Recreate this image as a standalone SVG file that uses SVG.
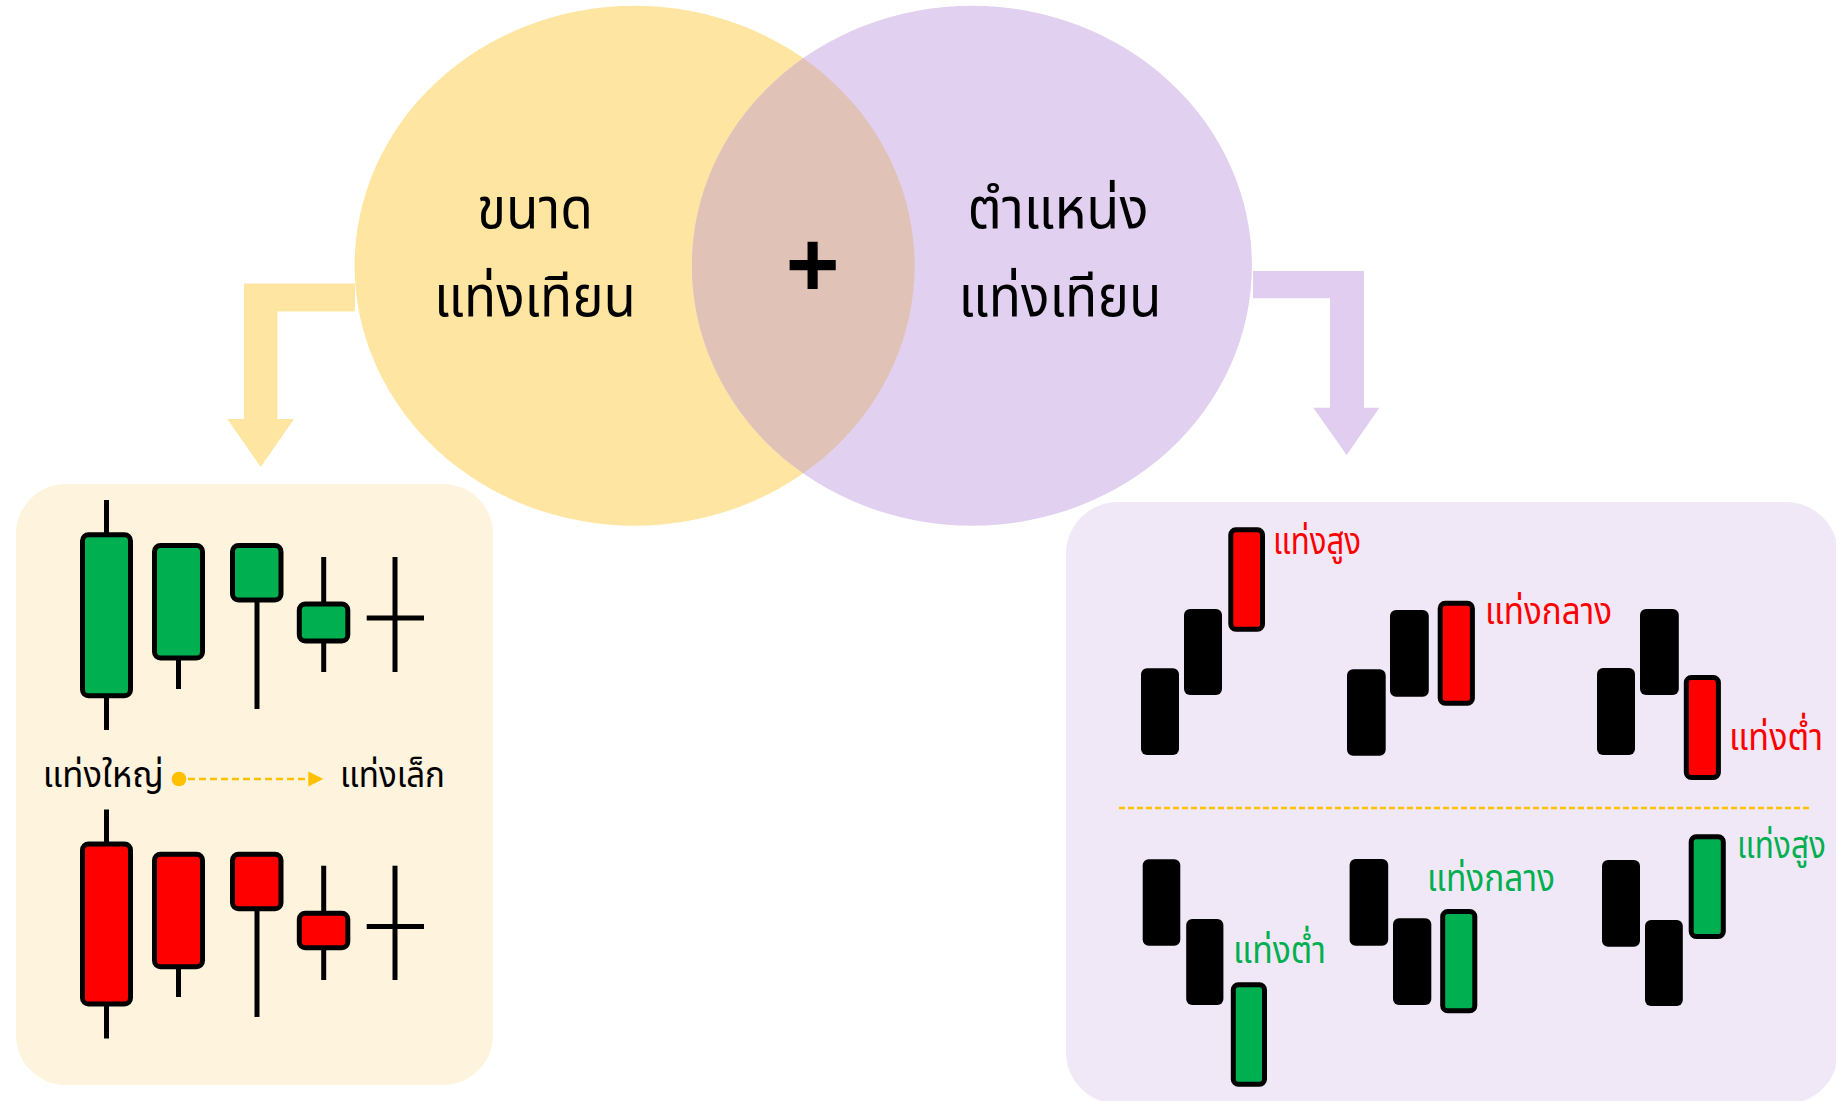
<svg xmlns="http://www.w3.org/2000/svg" width="1836" height="1101" viewBox="0 0 1836 1101">
<defs>
<style>
.th{font-family:"Noto Sans Thai","Noto Sans","DejaVu Sans",sans-serif;}
.big{font-size:57px;fill:#000;text-anchor:middle;}
.lbl{font-size:35px;fill:#000;}
.rl{font-size:37px;}
.red{fill:#FF0000;}
.grn{fill:#00B050;}
.wick{stroke:#000;stroke-width:5;fill:none;}
.gb{fill:#00B050;stroke:#000;stroke-width:5;}
.rb{fill:#FF0000;stroke:#000;stroke-width:5;}
.blk{fill:#000;}
.gc{fill:#00B050;stroke:#000;stroke-width:5;}
.rc{fill:#FF0000;stroke:#000;stroke-width:5;}
</style>
<clipPath id="clipL"><ellipse cx="634.6" cy="265.8" rx="280" ry="260"/></clipPath>
</defs>
<rect width="1836" height="1101" fill="#FFFFFF"/>

<g id="venn-size">
<ellipse cx="634.6" cy="265.8" rx="280" ry="260" fill="#FEE5A1"/>
</g>
<g id="venn-position">
<ellipse cx="971.9" cy="265.8" rx="280" ry="260" fill="#E1D0F0"/>
</g>
<g id="venn-overlap">
<ellipse cx="971.9" cy="265.8" rx="280" ry="260" fill="#E0C3B6" clip-path="url(#clipL)"/>
<text x="812.6" y="296" font-family="Liberation Sans, Arial, sans-serif" font-weight="bold" font-size="92" text-anchor="middle" fill="#000">+</text>
</g>
<g id="label-size">
<text class="th big" x="535" y="228" textLength="116" lengthAdjust="spacingAndGlyphs">ขนาด</text>
<text class="th big" x="535" y="316" textLength="202" lengthAdjust="spacingAndGlyphs">แท่งเทียน</text>
</g>
<g id="label-position">
<text class="th big" x="1058" y="228" textLength="181" lengthAdjust="spacingAndGlyphs">ตำแหน่ง</text>
<text class="th big" x="1060" y="316" textLength="203" lengthAdjust="spacingAndGlyphs">แท่งเทียน</text>
</g>

<g id="connectors">
<polygon points="355,283.5 244,283.5 244,419 227.3,419 260.7,467 294,419 277.3,419 277.3,311.5 355,311.5" fill="#FEE5A1"/>
<polygon points="1253,271 1364,271 1364,407.7 1379.3,407.7 1346.7,455 1313.3,407.7 1330,407.7 1330,298.3 1253,298.3" fill="#E1CDF0"/>
</g>

<g id="panel-size">
<rect x="16" y="484" width="477" height="601" rx="50" fill="#FEF3DD"/>
<g id="green-candles">
<line class="wick" x1="106.5" y1="500" x2="106.5" y2="730"/>
<rect class="gb" x="82.5" y="534.8" width="48" height="161" rx="6"/>
<line class="wick" x1="178.5" y1="655" x2="178.5" y2="689"/>
<rect class="gb" x="154.5" y="545.5" width="48" height="112.5" rx="6"/>
<line class="wick" x1="257" y1="600" x2="257" y2="709"/>
<rect class="gb" x="232.5" y="545.5" width="48.5" height="54.6" rx="6"/>
<line class="wick" x1="323.7" y1="557" x2="323.7" y2="672"/>
<rect class="gb" x="299.3" y="603.9" width="48.5" height="37.2" rx="6"/>
<line class="wick" x1="395" y1="557" x2="395" y2="672"/>
<line class="wick" x1="366.7" y1="618" x2="424" y2="618"/>
</g>
<text class="th lbl" x="42.7" y="787" textLength="121" lengthAdjust="spacingAndGlyphs">แท่งใหญ่</text>
<text class="th lbl" x="340" y="787" textLength="105" lengthAdjust="spacingAndGlyphs">แท่งเล็ก</text>
<g id="red-candles">
<line class="wick" x1="106.5" y1="809.5" x2="106.5" y2="1038.5"/>
<rect class="rb" x="82.5" y="844.1" width="48" height="160" rx="6"/>
<line class="wick" x1="178.5" y1="964" x2="178.5" y2="997"/>
<rect class="rb" x="154.5" y="854.2" width="48" height="112.5" rx="6"/>
<line class="wick" x1="257" y1="908" x2="257" y2="1017"/>
<rect class="rb" x="232.5" y="854.2" width="48.5" height="54.6" rx="6"/>
<line class="wick" x1="323.7" y1="865.7" x2="323.7" y2="980"/>
<rect class="rb" x="299.3" y="913.2" width="48.5" height="34.5" rx="6"/>
<line class="wick" x1="395" y1="865.7" x2="395" y2="980"/>
<line class="wick" x1="366.7" y1="926.5" x2="424" y2="926.5"/>
</g>
</g>

<g id="size-scale-arrow">
<circle cx="179" cy="779" r="7.3" fill="#FFC000"/>
<line x1="188" y1="779" x2="309" y2="779" stroke="#FFC000" stroke-width="2.5" stroke-dasharray="7 4"/>
<polygon points="308.3,771.5 323.3,779 308.3,786.5" fill="#FFC000"/>
</g>

<g id="panel-position">
<rect x="1066" y="502" width="772" height="602" rx="52" fill="#F1E8F7"/>
<line x1="1119" y1="808" x2="1812" y2="808" stroke="#FFC000" stroke-width="2.5" stroke-dasharray="6 3"/>
<g id="red-high">
<rect class="blk" x="1141" y="668.3" width="38" height="86.7" rx="6"/>
<rect class="blk" x="1184" y="609" width="38" height="86" rx="6"/>
<rect class="rc" x="1230.8" y="529.8" width="31.7" height="99.4" rx="5"/>
<text class="th rl red" x="1273" y="554" textLength="88" lengthAdjust="spacingAndGlyphs">แท่งสูง</text>
</g>
<g id="red-mid">
<rect class="blk" x="1347" y="669.3" width="38.7" height="86.4" rx="6"/>
<rect class="blk" x="1390" y="610" width="38.8" height="86.7" rx="6"/>
<rect class="rc" x="1440.2" y="603.2" width="32.2" height="100" rx="5"/>
<text class="th rl red" x="1485" y="623.5" textLength="127" lengthAdjust="spacingAndGlyphs">แท่งกลาง</text>
</g>
<g id="red-low">
<rect class="blk" x="1597" y="668" width="38" height="87" rx="6"/>
<rect class="blk" x="1640" y="609" width="38.8" height="86" rx="6"/>
<rect class="rc" x="1686.3" y="677.5" width="32.1" height="100" rx="5"/>
<text class="th rl red" x="1729" y="749.5" textLength="94" lengthAdjust="spacingAndGlyphs">แท่งต่ำ</text>
</g>
<g id="green-low">
<rect class="blk" x="1142.7" y="859.3" width="37.6" height="86.4" rx="6"/>
<rect class="blk" x="1186.2" y="919" width="37.2" height="86" rx="6"/>
<rect class="gc" x="1233.3" y="984.8" width="31.2" height="99.4" rx="5"/>
<text class="th rl grn" x="1233" y="962.5" textLength="93" lengthAdjust="spacingAndGlyphs">แท่งต่ำ</text>
</g>
<g id="green-mid">
<rect class="blk" x="1349.6" y="859" width="38.6" height="86.7" rx="6"/>
<rect class="blk" x="1393" y="918.3" width="38.3" height="86.7" rx="6"/>
<rect class="gc" x="1442.7" y="911.5" width="32.1" height="99.3" rx="5"/>
<text class="th rl grn" x="1427" y="890.5" textLength="128" lengthAdjust="spacingAndGlyphs">แท่งกลาง</text>
</g>
<g id="green-high">
<rect class="blk" x="1602" y="860" width="38" height="86.7" rx="6"/>
<rect class="blk" x="1645" y="920" width="37.8" height="86" rx="6"/>
<rect class="gc" x="1691.2" y="836.8" width="32.1" height="99.7" rx="5"/>
<text class="th rl grn" transform="translate(1737,857.5) scale(0.85,1)" x="0" y="0">แท่งสูง</text>
</g>
</g>
</svg>
